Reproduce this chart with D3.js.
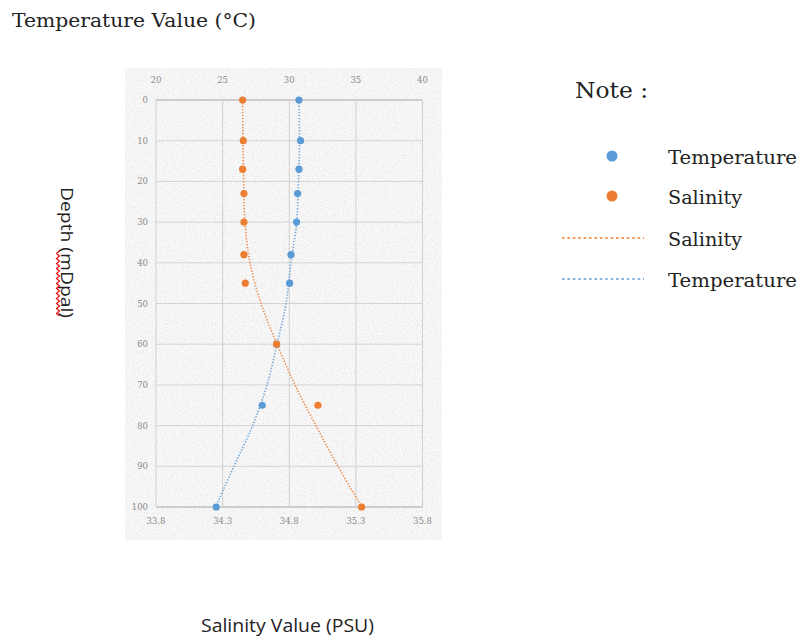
<!DOCTYPE html>
<html><head><meta charset="utf-8">
<script src="https://cdn.jsdelivr.net/npm/d3@7"></script>
<style>body{margin:0;background:#fff}svg{display:block}</style>
</head><body>
<svg id="c" width="800" height="642"></svg>
<script>
// ---- data ----
const depths = [0, 10, 17, 23, 30, 38, 45, 60, 75, 100];
const temperature = [30.73, 30.85, 30.73, 30.63, 30.55, 30.13, 30.03, 29.05, 27.97, 24.52];
const salinity = [34.45, 34.455, 34.45, 34.46, 34.46, 34.46, 34.47, 34.705, 35.015, 35.343];
const trendDepths = [0, 10, 20, 30, 40, 50, 60, 70, 80, 90, 100];
const salinityTrend = [34.449, 34.453, 34.458, 34.468, 34.505, 34.588, 34.708, 34.843, 35.0, 35.165, 35.345];
const temperatureTrend = [30.73, 30.77, 30.69, 30.56, 30.13, 29.76, 29.08, 28.33, 27.25, 25.85, 24.47];
const depthTicks = [0, 10, 20, 30, 40, 50, 60, 70, 80, 90, 100];
const tempTicks = [20, 25, 30, 35, 40];
const salTicks = [33.8, 34.3, 34.8, 35.3, 35.8];
const legendItems = [
  {label: "Temperature", type: "dot", color: "#5B9BD5"},
  {label: "Salinity", type: "dot", color: "#ED7D31"},
  {label: "Salinity", type: "line", color: "#F29A5E"},
  {label: "Temperature", type: "line", color: "#86B4E2"}
];

const svg = d3.select("#c");
const blue = "#5B9BD5", orange = "#ED7D31";
const serif = "'DejaVu Serif', serif";
const sans = "'Open Sans', 'Liberation Sans', sans-serif";

const y = d3.scaleLinear().domain([0, 100]).range([100, 507]);
const xT = d3.scaleLinear().domain([20, 40]).range([156, 422.5]);
const xS = d3.scaleLinear().domain([33.8, 35.8]).range([156, 422.5]);

// paper texture filter
const defs = svg.append("defs");
const f = defs.append("filter").attr("id", "paper").attr("x", 0).attr("y", 0).attr("width", 1).attr("height", 1);
f.append("feTurbulence").attr("type", "fractalNoise").attr("baseFrequency", "0.9 0.6").attr("numOctaves", 2).attr("seed", 4).attr("result", "n");
f.append("feColorMatrix").attr("in", "n").attr("type", "matrix")
  .attr("values", "0 0 0 0 0.6  0 0 0 0 0.6  0 0 0 0 0.6  2.2 0 0 0 -1.0").attr("result", "g");
f.append("feComposite").attr("in", "g").attr("in2", "SourceGraphic").attr("operator", "in");

svg.append("rect").attr("x", 125).attr("y", 68).attr("width", 317).attr("height", 472).attr("fill", "#f8f8f8");
svg.append("rect").attr("x", 125).attr("y", 68).attr("width", 317).attr("height", 472).attr("fill", "#fff")
  .attr("filter", "url(#paper)").attr("opacity", 0.45);

// grid
const g = svg.append("g");
g.selectAll("line.h").data(depthTicks).join("line")
  .attr("x1", xT(20)).attr("x2", xT(40)).attr("y1", d => y(d)).attr("y2", d => y(d))
  .attr("stroke", d => (d === 0 || d === 100) ? "#a6a6a6" : "#d4d4d4").attr("stroke-width", 1);
g.selectAll("line.v").data(tempTicks).join("line")
  .attr("x1", d => xT(d)).attr("x2", d => xT(d)).attr("y1", y(0)).attr("y2", y(100))
  .attr("stroke", "#d0d0d0").attr("stroke-width", 1);

// axes labels (ticks)
const tickStyle = s => s.attr("font-family", serif).attr("font-size", 8.5).attr("fill", "#8a8a8a");
svg.append("g").selectAll("text").data(tempTicks).join("text")
  .attr("x", d => xT(d)).attr("y", 83).attr("text-anchor", "middle").text(d => d).call(tickStyle);
svg.append("g").selectAll("text").data(salTicks).join("text")
  .attr("x", d => xS(d)).attr("y", 524).attr("text-anchor", "middle").text(d => d.toFixed(1)).call(tickStyle);
svg.append("g").selectAll("text").data(depthTicks).join("text")
  .attr("x", 148).attr("y", d => y(d) + 3).attr("text-anchor", "end").text(d => d).call(tickStyle);

// trend lines
const line = (xs, vals) => d3.line().x((d, i) => xs(vals[i])).y(d => y(d)).curve(d3.curveCatmullRom);
svg.append("path").datum(trendDepths).attr("d", line(xS, salinityTrend))
  .attr("fill", "none").attr("stroke", orange).attr("stroke-width", 1.6).attr("stroke-dasharray", "1.4 1.6").attr("opacity", 0.85);
svg.append("path").datum(trendDepths).attr("d", line(xT, temperatureTrend))
  .attr("fill", "none").attr("stroke", blue).attr("stroke-width", 1.6).attr("stroke-dasharray", "1.4 1.6").attr("opacity", 0.85);

// points
svg.append("g").selectAll("circle").data(depths).join("circle")
  .attr("cx", (d, i) => xT(temperature[i])).attr("cy", d => y(d)).attr("r", 3.6).attr("fill", blue);
svg.append("g").selectAll("circle").data(depths).join("circle")
  .attr("cx", (d, i) => xS(salinity[i])).attr("cy", d => y(d)).attr("r", 3.6).attr("fill", orange);

// titles
svg.append("text").attr("x", 12).attr("y", 27).attr("font-family", serif).attr("font-size", 19)
  .attr("fill", "#222").attr("textLength", 244).attr("lengthAdjust", "spacingAndGlyphs").text("Temperature Value (°C)");
svg.append("text").attr("x", 201).attr("y", 632).attr("font-family", sans).attr("font-size", 18)
  .attr("fill", "#222").attr("textLength", 173).attr("lengthAdjust", "spacingAndGlyphs").text("Salinity Value (PSU)");
svg.append("text").attr("transform", "translate(61,187) rotate(90)").attr("font-family", sans).attr("font-size", 16.5)
  .attr("fill", "#222").attr("textLength", 131).attr("lengthAdjust", "spacingAndGlyphs").text("Depth (mDpal)");
// spell-check squiggle under "mDpal"
const sq = d3.range(251, 318, 2.5);
svg.append("path").attr("d", d3.line().x((d, i) => i % 2 ? 56.5 : 59.5).y(d => d)(sq))
  .attr("fill", "none").attr("stroke", "#e81010").attr("stroke-width", 1.2);

// legend
svg.append("text").attr("x", 575).attr("y", 98).attr("font-family", serif).attr("font-size", 23)
  .attr("fill", "#222").attr("textLength", 73).attr("lengthAdjust", "spacingAndGlyphs").text("Note :");
const rowY = [164, 204, 246, 287];
const lg = svg.append("g").selectAll("g").data(legendItems).join("g");
lg.each(function(d, i) {
  const s = d3.select(this);
  const cy = rowY[i] - 8;
  if (d.type === "dot") {
    s.append("circle").attr("cx", 612).attr("cy", cy).attr("r", 5.5).attr("fill", d.color);
  } else {
    s.append("line").attr("x1", 562).attr("x2", 644).attr("y1", cy).attr("y2", cy)
      .attr("stroke", d.color).attr("stroke-width", 2.2).attr("stroke-dasharray", "2.6 2.8");
  }
  s.append("text").attr("x", 668).attr("y", rowY[i]).attr("font-family", serif).attr("font-size", 18.5)
    .attr("fill", "#222").attr("textLength", d.label === "Temperature" ? 129 : 74)
    .attr("lengthAdjust", "spacingAndGlyphs").text(d.label);
});
</script>
</body></html>
